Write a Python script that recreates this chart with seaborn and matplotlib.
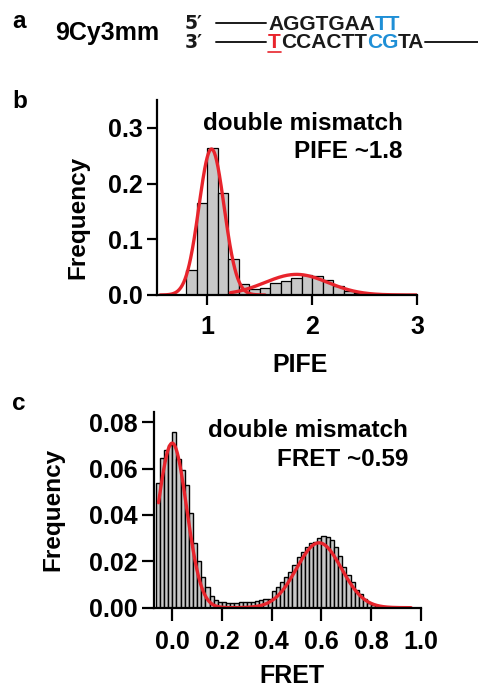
import numpy as np
import pandas as pd
import matplotlib
matplotlib.use("Agg")
import matplotlib.pyplot as plt
import seaborn as sns

# ---------------- data ----------------
# PIFE histogram: bin width 0.1, first bin starts at 0.8
pife_bin_start = 0.8
pife_bin_width = 0.1
pife_freq = [0.045, 0.165, 0.264, 0.183, 0.064, 0.019, 0.010, 0.013, 0.021,
             0.026, 0.031, 0.036, 0.034, 0.027, 0.016, 0.008, 0.004, 0.002]

# PIFE Gaussian fits (two separate populations)
pife_fit_amp = [0.262, 0.037]
pife_fit_center = [1.04, 1.85]
pife_fit_sigma = [0.12, 0.30]
pife_fit_range = [(0.55, 1.55), (1.22, 3.0)]

# FRET histogram: bin width 1/60, first bin starts at -4/60
fret_bin_start = -4 / 60
fret_bin_width = 1 / 60
fret_freq = [0.054, 0.0645, 0.068, 0.070, 0.076, 0.064, 0.0595, 0.053, 0.041,
             0.028, 0.020, 0.0134, 0.009, 0.005, 0.0033, 0.0026, 0.0024, 0.0022,
             0.0020, 0.0022, 0.0025, 0.0025, 0.0025, 0.0024, 0.0028, 0.0035,
             0.0038, 0.0037, 0.0070, 0.0088, 0.0112, 0.0134, 0.0155, 0.0184,
             0.0220, 0.0242, 0.0263, 0.0280, 0.0285, 0.0299, 0.0309, 0.0303,
             0.0292, 0.0263, 0.0224, 0.0177, 0.0141, 0.0112, 0.0076, 0.0059,
             0.0036, 0.0022, 0.0010, 0.0005]

# FRET two-Gaussian fit (summed)
fret_fit_amp = [0.071, 0.028]
fret_fit_center = [0.0, 0.59]
fret_fit_sigma = [0.058, 0.09]
fret_fit_range = (-0.055, 0.96)

pife_xticks = [1, 2, 3]
pife_yticks = [0.0, 0.1, 0.2, 0.3]
fret_xticks = [0.0, 0.2, 0.4, 0.6, 0.8, 1.0]
fret_yticks = [0.00, 0.02, 0.04, 0.06, 0.08]

# ---------------- style ----------------
sns.set_style("ticks")
plt.rcParams["font.family"] = ["Liberation Sans", "DejaVu Sans"]
plt.rcParams["font.weight"] = "bold"
plt.rcParams["axes.labelweight"] = "bold"
plt.rcParams["text.color"] = "black"
plt.rcParams["axes.labelcolor"] = "black"
plt.rcParams["xtick.color"] = "black"
plt.rcParams["ytick.color"] = "black"

RED = "#e8242c"
BLUE = "#1f8fd6"
INK = "#1a1a1a"
GRAY = "#c8c8c8"
TICK_FS = 18
LABEL_FS = 17.5

W, H = 478, 688
fig = plt.figure(figsize=(W / 100, H / 100), dpi=100)


def px_axes(left, top, right, bottom):
    return fig.add_axes([left / W, 1 - bottom / H, (right - left) / W, (bottom - top) / H])


def gauss(x, a, mu, s):
    return a * np.exp(-((x - mu) ** 2) / (2 * s ** 2))


def style_axes(ax, ticklen):
    sns.despine(ax=ax)
    for sp in ("left", "bottom"):
        ax.spines[sp].set_linewidth(1.6)
        ax.spines[sp].set_color("black")
    ax.tick_params(axis="both", direction="out", length=ticklen, width=1.6,
                   labelsize=TICK_FS, colors="black")
    ax.tick_params(axis="x", pad=7)
    ax.tick_params(axis="y", pad=3)
    for lab in ax.get_xticklabels() + ax.get_yticklabels():
        lab.set_fontweight("bold")


# ---------------- panel b: PIFE ----------------
axb = px_axes(157, 100, 417, 295)
pife_edges = [pife_bin_start + pife_bin_width * i for i in range(len(pife_freq) + 1)]
pife_df = pd.DataFrame({"PIFE": [e + pife_bin_width / 2 for e in pife_edges[:-1]],
                        "freq": pife_freq})
sns.histplot(data=pife_df, x="PIFE", weights="freq", bins=pife_edges, stat="count",
             color=GRAY, alpha=1, edgecolor="black", linewidth=0.9, ax=axb)
for a, mu, s, (lo, hi) in zip(pife_fit_amp, pife_fit_center, pife_fit_sigma, pife_fit_range):
    xs = np.linspace(lo, hi, 300)
    sns.lineplot(x=xs, y=gauss(xs, a, mu, s), color=RED, linewidth=2.4, ax=axb)
axb.set_xlim(0.52, 3.0)
axb.set_ylim(0, 0.35)
axb.set_xticks(pife_xticks)
axb.set_xticklabels([str(t) for t in pife_xticks])
axb.set_yticks(pife_yticks)
axb.set_yticklabels([f"{t:.1f}" for t in pife_yticks])
style_axes(axb, 7.5)
axb.set_ylabel("Frequency", fontsize=LABEL_FS, va="center")
axb.yaxis.set_label_coords(-0.305, 0.40)
axb.set_xlabel("PIFE", fontsize=18, va="baseline")
axb.xaxis.set_label_coords(0.55, -0.395)
axb.text(0.946, 0.846, "double mismatch", transform=axb.transAxes, ha="right",
         va="baseline", fontsize=LABEL_FS)
axb.text(0.946, 0.703, "PIFE ~1.8", transform=axb.transAxes, ha="right",
         va="baseline", fontsize=LABEL_FS)

# ---------------- panel c: FRET ----------------
axc = px_axes(154.3, 412.3, 421, 607.7)
fret_edges = [fret_bin_start + fret_bin_width * i for i in range(len(fret_freq) + 1)]
fret_df = pd.DataFrame({"FRET": [e + fret_bin_width / 2 for e in fret_edges[:-1]],
                        "freq": fret_freq})
sns.histplot(data=fret_df, x="FRET", weights="freq", bins=fret_edges, stat="count",
             color=GRAY, alpha=1, edgecolor="black", linewidth=1.0, ax=axc)
xs = np.linspace(fret_fit_range[0], fret_fit_range[1], 500)
ys = sum(gauss(xs, a, mu, s) for a, mu, s in zip(fret_fit_amp, fret_fit_center, fret_fit_sigma))
sns.lineplot(x=xs, y=ys, color=RED, linewidth=2.4, ax=axc)
axc.set_xlim(-0.072, 1.0)
axc.set_ylim(0, 0.0843)
axc.set_xticks(fret_xticks)
axc.set_xticklabels([f"{t:.1f}" for t in fret_xticks])
axc.set_yticks(fret_yticks)
axc.set_yticklabels([f"{t:.2f}" for t in fret_yticks])
style_axes(axc, 9)
axc.set_ylabel("Frequency", fontsize=LABEL_FS, va="center")
axc.yaxis.set_label_coords(-0.380, 0.5025)
axc.set_xlabel("FRET", fontsize=18, va="baseline")
axc.xaxis.set_label_coords(0.515, -0.385)
axc.text(0.952, 0.872, "double mismatch", transform=axc.transAxes, ha="right",
         va="baseline", fontsize=LABEL_FS)
axc.text(0.952, 0.725, "FRET ~0.59", transform=axc.transAxes, ha="right",
         va="baseline", fontsize=LABEL_FS)

# ---------------- panel letters ----------------
for letter, ybase in (("a", 28), ("b", 108), ("c", 410)):
    fig.text(12 / W, 1 - ybase / H, letter, fontsize=LABEL_FS, fontweight="bold",
             ha="left", va="baseline")

# ---------------- panel a: duplex sequence ----------------
fig.text(55 / W, 1 - 40 / H, "9Cy3mm", fontsize=18, fontweight="bold",
         ha="left", va="baseline")

renderer = fig.canvas.get_renderer()
SEQ_FS = 15


def seq_run(x0, ybase, pieces):
    """Draw coloured pieces one after another starting at pixel x0."""
    x = x0
    spans = []
    for txt, col in pieces:
        t = fig.text(x / W, 1 - ybase / H, txt, fontsize=SEQ_FS, fontweight="bold",
                     color=col, ha="left", va="baseline")
        bb = t.get_window_extent(renderer)
        spans.append((x, x + bb.width))
        x += bb.width
    return x, spans


line_kw = dict(color=INK, linewidth=1.4, transform=fig.transFigure)
# strand ends (5' over 3'), one two-line label
fig.text(185 / W, 1 - 33 / H, "5\u2032\n3\u2032", fontsize=13.5, fontweight="bold",
         ha="left", va="center", family=["DejaVu Sans"], color=INK, linespacing=1.02)
# top strand
fig.add_artist(plt.Line2D([216 / W, 266 / W], [1 - 23 / H, 1 - 23 / H], **line_kw))
seq_run(268, 30, [("AGGTGAA", INK), ("TT", BLUE)])
# bottom strand
fig.add_artist(plt.Line2D([216 / W, 266 / W], [1 - 42 / H, 1 - 42 / H], **line_kw))
xend, spans = seq_run(268, 48, [("T", RED), ("CCACTT", INK), ("CG", BLUE), ("TA", INK)])
fig.add_artist(plt.Line2D([xend / W, 478 / W], [1 - 42 / H, 1 - 42 / H], **line_kw))
tx0, tx1 = spans[0]
fig.add_artist(plt.Line2D([tx0 / W, tx1 / W], [1 - 52 / H, 1 - 52 / H],
                          color=RED, linewidth=1.2, transform=fig.transFigure))

fig.savefig("out.png", dpi=100)
